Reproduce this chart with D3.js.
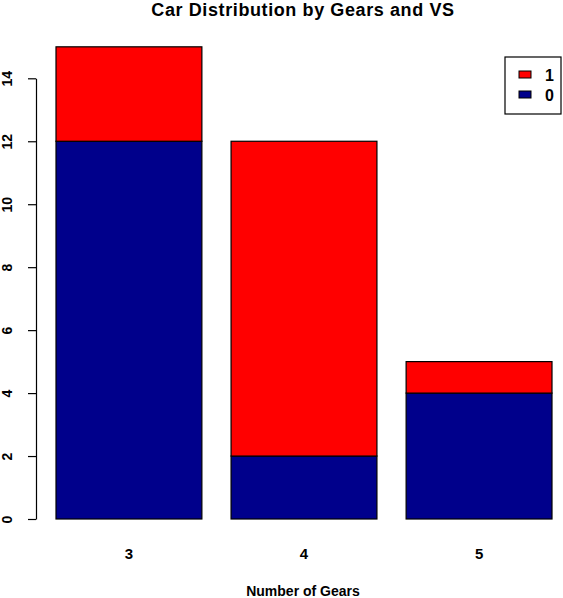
<!DOCTYPE html>
<html>
<head>
<meta charset="utf-8">
<script src="https://cdn.jsdelivr.net/npm/d3@7"></script>
<style>
    body { margin: 0; background: #fff; }
    text { font-family: 'Liberation Sans', Arial, sans-serif; font-weight: bold; fill: #000; }
</style>
</head>
<body>
<div class="d3-container"></div>
<script>
const w = 563
const h = 598

// data
const gears = ['3', '4', '5']
const vs0 = [12, 2, 4]
const vs1 = [3, 10, 1]
const vsKeys = ['0', '1']
const yTicks = [0, 2, 4, 6, 8, 10, 12, 14]
const colors = { '0': '#00008B', '1': '#FF0000' }

const rows = gears.map((g, i) => ({ gear: g, '0': vs0[i], '1': vs1[i] }))
const stacked = d3.stack().keys(vsKeys)(rows)

const svg = d3.select('.d3-container')
    .append('svg')
    .attr('width', w)
    .attr('height', h)

const x = d3.scaleBand()
    .domain(gears)
    .range([56, 552])
    .paddingInner(1 / 6)
    .paddingOuter(0)

const y = d3.scaleLinear()
    .domain([0, 14])
    .range([519, 78.3])

// bars
svg.append('g')
    .selectAll('g')
    .data(stacked)
    .enter()
    .append('g')
    .attr('fill', (d) => colors[d.key])
    .selectAll('rect')
    .data((d) => d)
    .enter()
    .append('rect')
    .attr('x', (d) => x(d.data.gear))
    .attr('y', (d) => y(d[1]))
    .attr('width', x.bandwidth())
    .attr('height', (d) => y(d[0]) - y(d[1]))
    .attr('stroke', '#000')
    .attr('stroke-width', 1.2)

// y axis
const yAxis = d3.axisLeft(y)
    .tickValues(yTicks)
    .tickSize(8)
    .tickSizeOuter(0)

const yg = svg.append('g')
    .attr('transform', 'translate(36, 0)')
    .call(yAxis)

yg.select('.domain').attr('stroke', '#000').attr('stroke-width', 1.2)
yg.selectAll('.tick line').attr('stroke', '#000').attr('stroke-width', 1.2)
yg.selectAll('.tick text')
    .attr('x', null)
    .attr('dy', null)
    .attr('transform', 'translate(-24.5, 0) rotate(-90)')
    .attr('text-anchor', 'middle')
    .style('font-size', '14px')
    .style('font-family', "'Liberation Sans', Arial, sans-serif")
    .style('font-weight', 'bold')

// x category labels
svg.append('g')
    .selectAll('text')
    .data(gears)
    .enter()
    .append('text')
    .attr('x', (d) => x(d) + x.bandwidth() / 2)
    .attr('y', 558.5)
    .attr('text-anchor', 'middle')
    .style('font-size', '15px')
    .text((d) => d)

// titles
svg.append('text')
    .attr('x', 303)
    .attr('y', 15.5)
    .attr('text-anchor', 'middle')
    .style('font-size', '18px')
    .style('letter-spacing', '0.6px')
    .text('Car Distribution by Gears and VS')

svg.append('text')
    .attr('x', 303)
    .attr('y', 596)
    .attr('text-anchor', 'middle')
    .style('font-size', '14px')
    .text('Number of Gears')

// legend
const legend = svg.append('g')
    .attr('transform', 'translate(505, 57)')

legend.append('rect')
    .attr('width', 56)
    .attr('height', 57)
    .attr('fill', '#fff')
    .attr('stroke', '#000')
    .attr('stroke-width', 1.2)

const legendKeys = ['1', '0']

legend.selectAll('.swatch')
    .data(legendKeys)
    .enter()
    .append('rect')
    .attr('class', 'swatch')
    .attr('x', 14)
    .attr('y', (d, i) => 14 + i * 20)
    .attr('width', 12)
    .attr('height', 7)
    .attr('fill', (d) => colors[d])
    .attr('stroke', '#000')
    .attr('stroke-width', 1)

legend.selectAll('.lbl')
    .data(legendKeys)
    .enter()
    .append('text')
    .attr('class', 'lbl')
    .attr('x', 40)
    .attr('y', (d, i) => 23.5 + i * 20)
    .style('font-size', '16px')
    .text((d) => d)
</script>
</body>
</html>
